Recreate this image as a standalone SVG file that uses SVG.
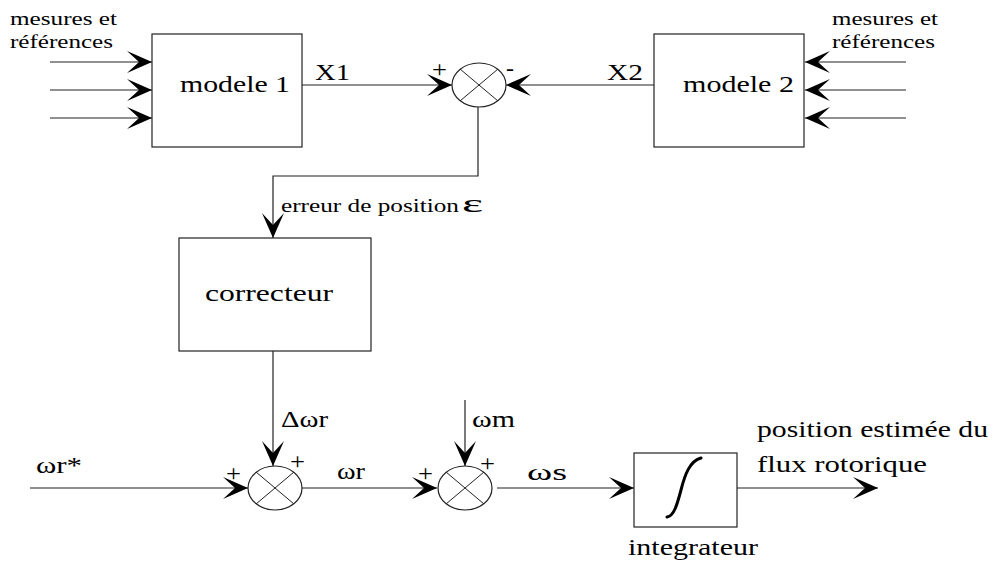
<svg xmlns="http://www.w3.org/2000/svg" width="999" height="563" viewBox="0 0 999 563">
  <style>
    .box { fill: #fff; stroke: #222; stroke-width: 1.2; }
    .sum { fill: #fff; stroke: #222; stroke-width: 1.2; }
    .cross { stroke: #222; stroke-width: 1; }
    .arrow { fill: none; stroke: #222; stroke-width: 1.2; marker-end: url(#head); }
  </style>
  <defs>
    <marker id="head" markerUnits="userSpaceOnUse" markerWidth="30" markerHeight="24" refX="25" refY="11" orient="auto" overflow="visible">
      <path d="M25,11 L0,0 L12,11 L0,22 Z" fill="#000"/>
    </marker>
  </defs>

  <!-- connectors -->
  <g id="connectors">
    <line class="arrow" x1="50" y1="62" x2="152" y2="62"/>
    <line class="arrow" x1="50" y1="90" x2="152" y2="90"/>
    <line class="arrow" x1="50" y1="118" x2="152" y2="118"/>
    <line class="arrow" x1="906" y1="62" x2="805" y2="62"/>
    <line class="arrow" x1="906" y1="90" x2="805" y2="90"/>
    <line class="arrow" x1="906" y1="118" x2="805" y2="118"/>
    <line class="arrow" x1="302" y1="85" x2="452" y2="85"/>
    <line class="arrow" x1="654" y1="85" x2="506" y2="85"/>
    <polyline class="arrow" points="478,107 478,176 273,176 273,238"/>
    <line class="arrow" x1="273" y1="351" x2="273" y2="466"/>
    <line class="arrow" x1="30" y1="488" x2="248" y2="488"/>
    <line class="arrow" x1="302" y1="488" x2="437" y2="488"/>
    <line class="arrow" x1="465" y1="400" x2="465" y2="466"/>
    <line class="arrow" x1="497" y1="488" x2="634" y2="488"/>
    <line class="arrow" x1="737" y1="488" x2="878" y2="488"/>
  </g>

  <g font-family="Liberation Serif, serif" fill="#000">
  <!-- modele 1 -->
  <g id="modele1">
    <rect class="box" x="152" y="34" width="150" height="113"/>
    <text x="180" y="92" font-size="24" textLength="110" lengthAdjust="spacingAndGlyphs">modele 1</text>
    <text x="10" y="25" font-size="18" textLength="107" lengthAdjust="spacingAndGlyphs">mesures et</text>
    <text x="10" y="48" font-size="18" textLength="103" lengthAdjust="spacingAndGlyphs">références</text>
  </g>

  <!-- modele 2 -->
  <g id="modele2">
    <rect class="box" x="654" y="34" width="150" height="113"/>
    <text x="683" y="92" font-size="24" textLength="111" lengthAdjust="spacingAndGlyphs">modele 2</text>
    <text x="832" y="25" font-size="18" textLength="106" lengthAdjust="spacingAndGlyphs">mesures et</text>
    <text x="832" y="48" font-size="18" textLength="103" lengthAdjust="spacingAndGlyphs">références</text>
  </g>

  <!-- comparator -->
  <g id="sum1">
    <ellipse class="sum" cx="479" cy="85" rx="27" ry="22"/>
    <line class="cross" x1="460" y1="69" x2="498" y2="101"/>
    <line class="cross" x1="460" y1="101" x2="498" y2="69"/>
    <text x="432" y="77" font-size="24" textLength="15" lengthAdjust="spacingAndGlyphs">+</text>
    <text x="506" y="76" font-size="24" textLength="8" lengthAdjust="spacingAndGlyphs">-</text>
    <text x="315" y="80" font-size="24" textLength="35" lengthAdjust="spacingAndGlyphs">X1</text>
    <text x="607" y="80" font-size="24" textLength="36" lengthAdjust="spacingAndGlyphs">X2</text>
  </g>

  <!-- correcteur -->
  <g id="correcteur">
    <rect class="box" x="179" y="238" width="192" height="113"/>
    <text x="205" y="301" font-size="24" textLength="128" lengthAdjust="spacingAndGlyphs">correcteur</text>
    <text x="281" y="212" font-size="18" textLength="178" lengthAdjust="spacingAndGlyphs">erreur de position</text>
    <text x="462" y="212" font-size="26" textLength="21" lengthAdjust="spacingAndGlyphs">ε</text>
  </g>

  <!-- speed summing junctions -->
  <g id="sum2">
    <ellipse class="sum" cx="275" cy="488" rx="27" ry="22"/>
    <line class="cross" x1="256" y1="472" x2="294" y2="504"/>
    <line class="cross" x1="256" y1="504" x2="294" y2="472"/>
    <text x="226" y="481" font-size="24" textLength="15" lengthAdjust="spacingAndGlyphs">+</text>
    <text x="290" y="469" font-size="24" textLength="15" lengthAdjust="spacingAndGlyphs">+</text>
    <text x="281" y="427" font-size="24" textLength="47" lengthAdjust="spacingAndGlyphs">Δωr</text>
    <text x="36" y="473" font-size="24" textLength="46" lengthAdjust="spacingAndGlyphs">ωr*</text>
    <text x="337" y="479" font-size="24" textLength="28" lengthAdjust="spacingAndGlyphs">ωr</text>
  </g>

  <g id="sum3">
    <ellipse class="sum" cx="465" cy="488" rx="27" ry="22"/>
    <line class="cross" x1="446" y1="472" x2="484" y2="504"/>
    <line class="cross" x1="446" y1="504" x2="484" y2="472"/>
    <text x="418" y="481" font-size="24" textLength="15" lengthAdjust="spacingAndGlyphs">+</text>
    <text x="480" y="471" font-size="24" textLength="15" lengthAdjust="spacingAndGlyphs">+</text>
    <text x="472" y="427" font-size="24" textLength="43" lengthAdjust="spacingAndGlyphs">ωm</text>
    <text x="527" y="480" font-size="24" textLength="40" lengthAdjust="spacingAndGlyphs">ωs</text>
  </g>

  <!-- integrateur -->
  <g id="integrateur">
    <rect class="box" x="634" y="453" width="103" height="74"/>
    <path d="M667,517 C674,516 677,505 681,490 C685,474 690,461 701,458" fill="none" stroke="#000" stroke-width="3" stroke-linecap="round"/>
    <text x="628" y="555" font-size="24" textLength="130" lengthAdjust="spacingAndGlyphs">integrateur</text>
    <text x="757" y="437" font-size="24" textLength="231" lengthAdjust="spacingAndGlyphs">position estimée du</text>
    <text x="757" y="472" font-size="24" textLength="170" lengthAdjust="spacingAndGlyphs">flux rotorique</text>
  </g>
  </g>
</svg>
